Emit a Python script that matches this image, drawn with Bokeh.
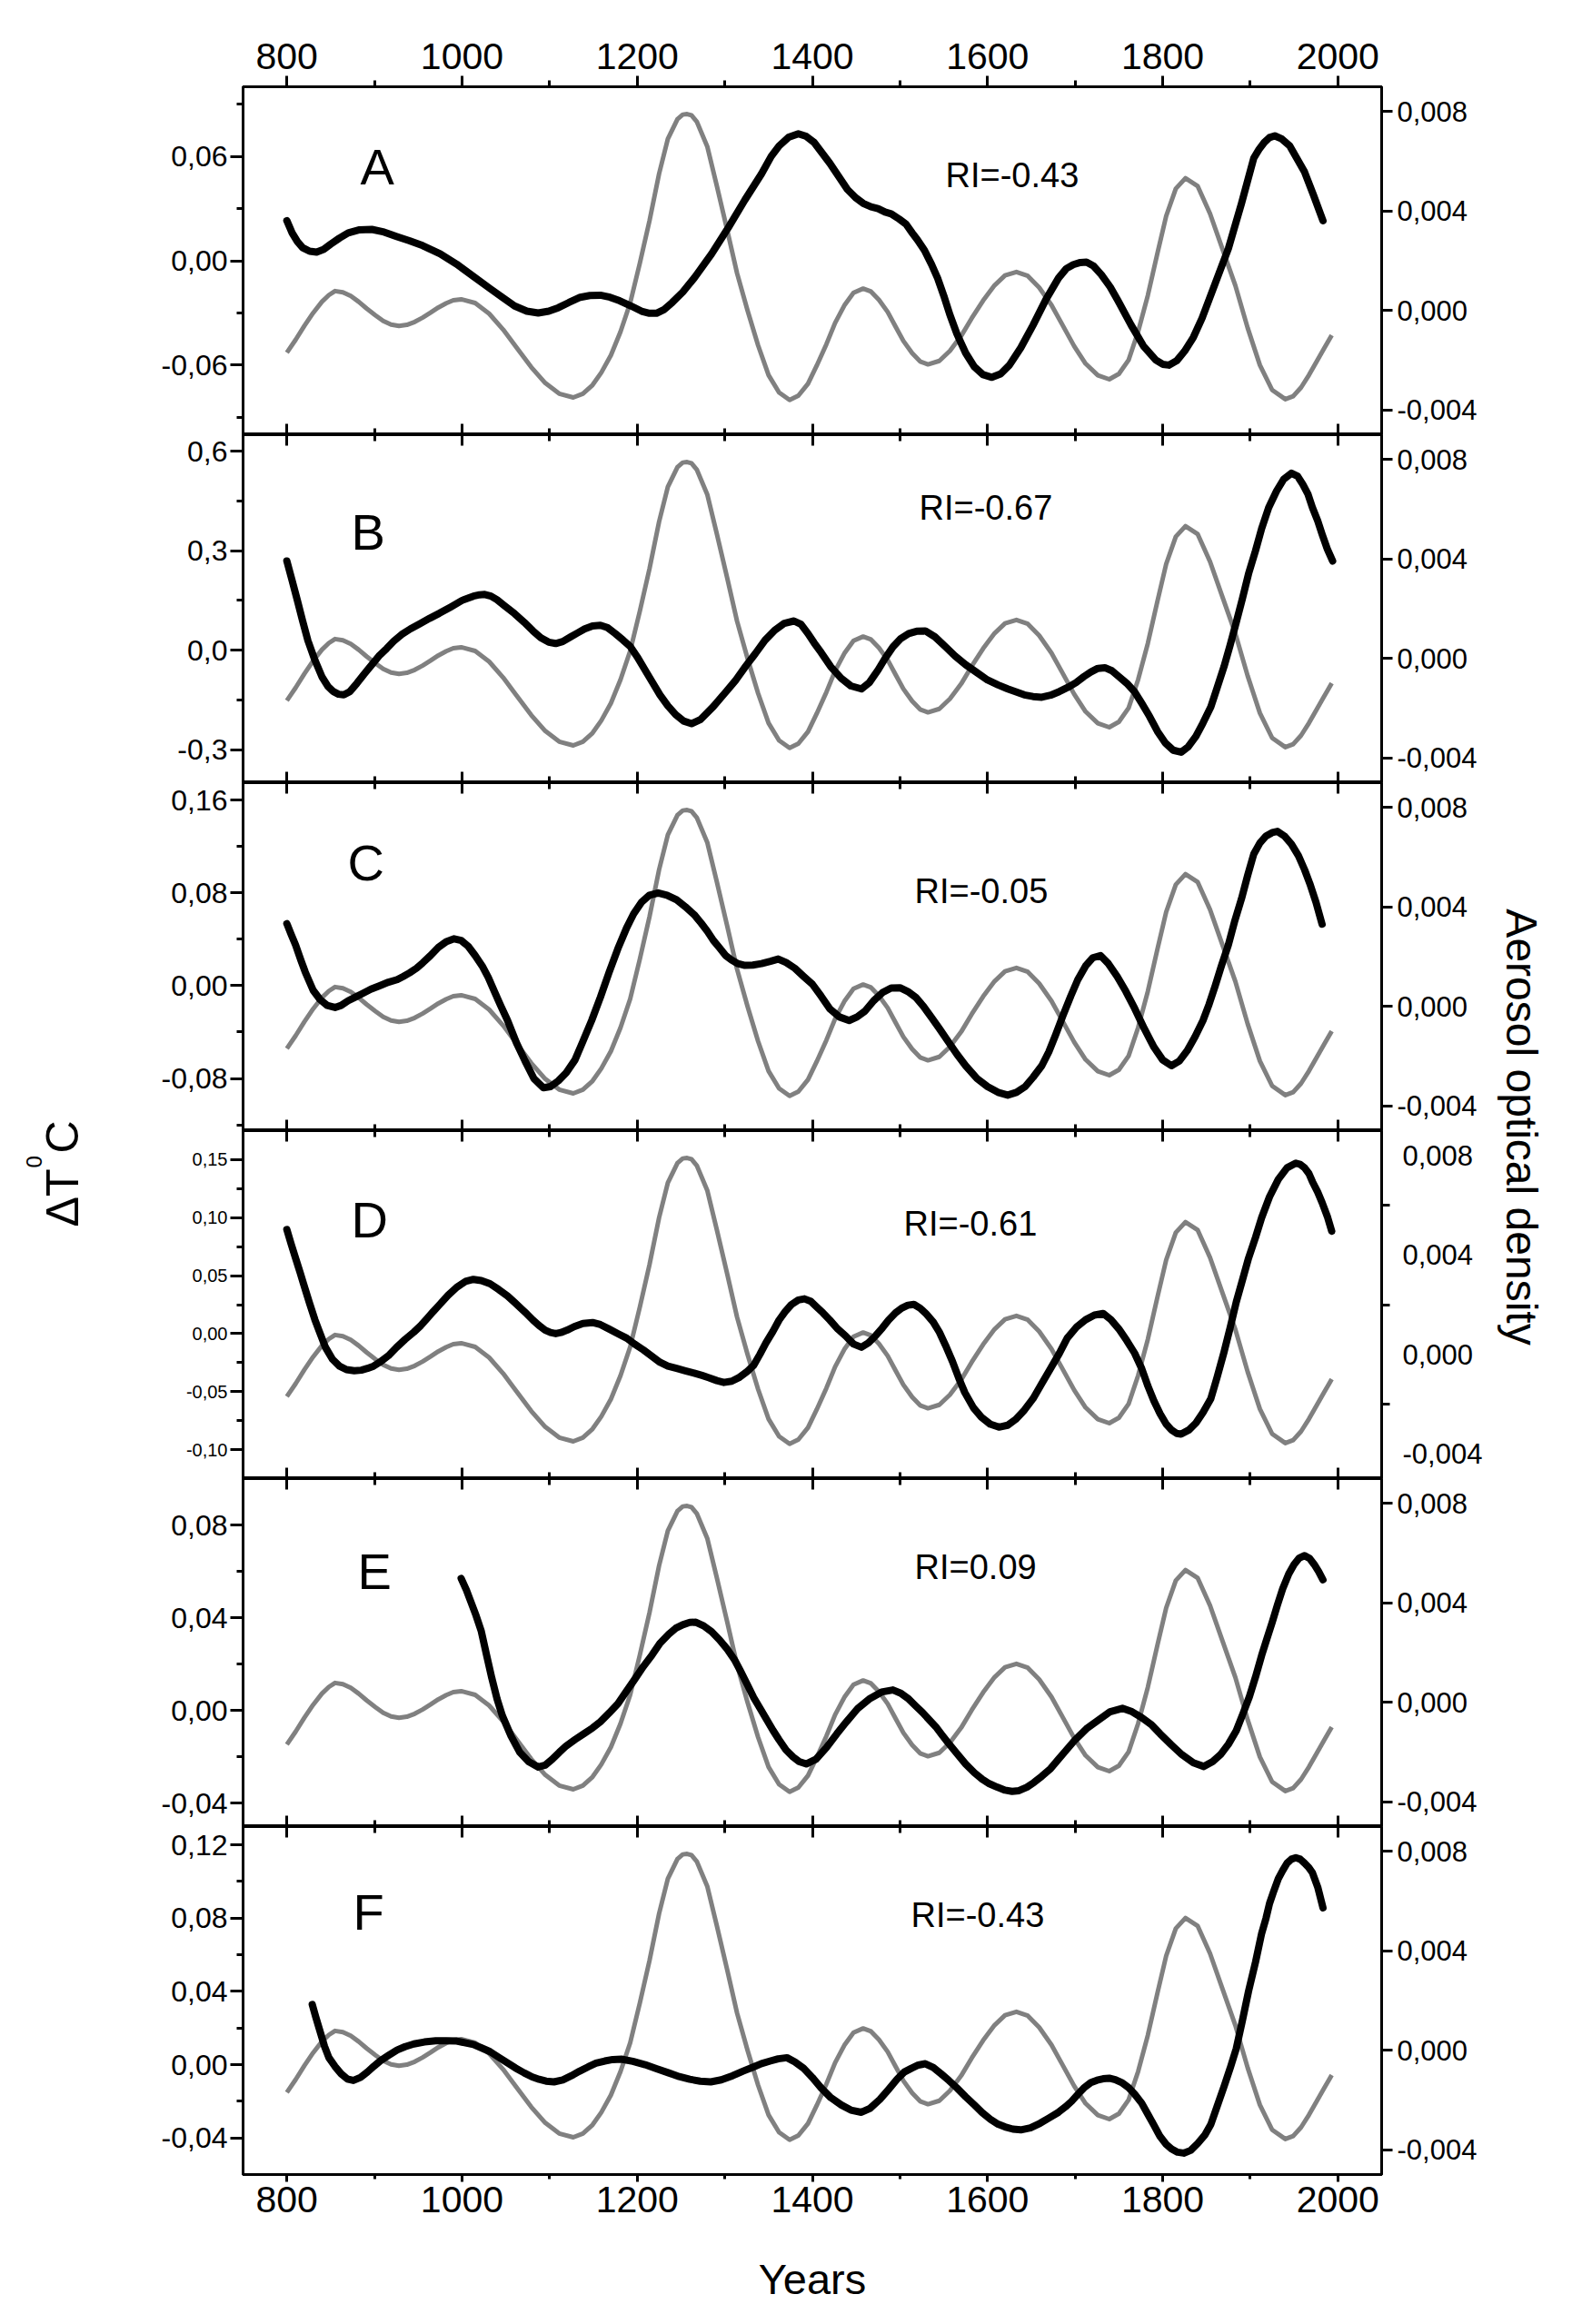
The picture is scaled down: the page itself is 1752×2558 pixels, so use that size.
import math
from bokeh.plotting import figure
from bokeh.models import Range1d, LinearAxis, FixedTicker, Label, Grid
from bokeh.layouts import row, column
from bokeh.embed import file_html
from bokeh.resources import INLINE

# ---------------- data ----------------
panel_names = ["A", "B", "C", "D", "E", "F"]
ri_texts = ["RI=-0.43", "RI=-0.67", "RI=-0.05", "RI=-0.61", "RI=0.09", "RI=-0.43"]

year_ticks = [800, 1000, 1200, 1400, 1600, 1800, 2000]
year_minor_ticks = [900, 1100, 1300, 1500, 1700, 1900]

# aerosol optical density (grey, right axis) - same curve in all panels
grey_years = [800, 810, 820, 830, 840, 848, 855, 864, 873, 882, 891, 901, 910, 919, 928, 937, 946, 955,
              964, 973, 982, 990, 999, 1015, 1031, 1047, 1063, 1079, 1095, 1111, 1127, 1138, 1149, 1159,
              1170, 1181, 1192, 1203, 1214, 1225, 1235, 1246, 1252, 1257, 1262, 1268, 1280, 1291, 1303,
              1314, 1326, 1338, 1350, 1362, 1374, 1384, 1395, 1405, 1416, 1426, 1437, 1447, 1458, 1467,
              1476, 1486, 1495, 1504, 1514, 1523, 1532, 1545, 1557, 1570, 1582, 1595, 1608, 1620, 1633,
              1646, 1659, 1673, 1686, 1699, 1712, 1726, 1739, 1750, 1761, 1772, 1783, 1794, 1804, 1815,
              1826, 1840, 1854, 1868, 1883, 1897, 1911, 1925, 1940, 1949, 1958, 1967, 1975, 1984, 1993]
grey_aod = [-0.00170, -0.00118, -0.00062, -0.00010, 0.00035, 0.00062, 0.00078, 0.00073, 0.00058,
            0.00035, 0.00008, -0.00019, -0.00042, -0.00057, -0.00062, -0.00058, -0.00046, -0.00029,
            -0.00009, 0.00012, 0.00029, 0.00041, 0.00045, 0.00030, -0.00013, -0.00077, -0.00153,
            -0.00228, -0.00292, -0.00335, -0.00350, -0.00335, -0.00300, -0.00250, -0.00180, -0.00085,
            0.00030, 0.00190, 0.00360, 0.00550, 0.00690, 0.00770, 0.00788, 0.00790, 0.00785, 0.00760,
            0.00660, 0.00500, 0.00320, 0.00150, 0.00000, -0.00140, -0.00260, -0.00330, -0.00360,
            -0.00343, -0.00295, -0.00222, -0.00136, -0.00050, 0.00023, 0.00071, 0.00088, 0.00076,
            0.00043, -0.00006, -0.00065, -0.00123, -0.00172, -0.00205, -0.00217, -0.00203, -0.00163,
            -0.00102, -0.00031, 0.00040, 0.00101, 0.00141, 0.00155, 0.00139, 0.00092, 0.00022,
            -0.00061, -0.00144, -0.00214, -0.00261, -0.00277, -0.00255, -0.00200, -0.00085, 0.00060,
            0.00230, 0.00380, 0.00490, 0.00532, 0.00500, 0.00390, 0.00250, 0.00100, -0.00070,
            -0.00220, -0.00320, -0.00357, -0.00345, -0.00310, -0.00260, -0.00210, -0.00155, -0.00100]

# temperature anomalies (black, left axis)
black_years_A = [800, 806, 812, 818, 826, 834, 842, 850, 860, 870, 883, 897, 911, 925, 940, 955, 975, 994,
                 1013, 1032, 1046, 1060, 1074, 1087, 1099, 1110, 1122, 1135, 1146, 1158, 1169, 1180, 1193,
                 1205, 1214, 1222, 1231, 1240, 1252, 1265, 1285, 1304, 1323, 1342, 1353, 1362, 1373, 1384,
                 1393, 1402, 1411, 1420, 1440, 1450, 1458, 1467, 1475, 1483, 1490, 1499, 1507, 1514, 1520,
                 1528, 1536, 1543, 1550, 1557, 1565, 1575, 1585, 1595, 1605, 1615, 1625, 1638, 1652, 1667,
                 1681, 1690, 1698, 1706, 1713, 1721, 1730, 1740, 1749, 1764, 1778, 1792, 1800, 1807, 1816,
                 1825, 1835, 1845, 1860, 1875, 1890, 1904, 1910, 1916, 1922, 1928, 1936, 1945, 1953, 1962,
                 1972, 1983]
black_temp_A = [0.023, 0.016, 0.011, 0.0075, 0.0055, 0.005, 0.0065, 0.0095, 0.013, 0.016, 0.0178, 0.018,
                0.0165, 0.014, 0.0115, 0.0087, 0.004, -0.002, -0.009, -0.016, -0.021, -0.026, -0.029,
                -0.030, -0.029, -0.027, -0.024, -0.021, -0.020, -0.0198, -0.021, -0.023, -0.026, -0.029,
                -0.0302, -0.0302, -0.028, -0.024, -0.018, -0.010, 0.004, 0.019, 0.035, 0.050, 0.060,
                0.066, 0.071, 0.073, 0.0715, 0.068, 0.062, 0.056, 0.041, 0.036, 0.033, 0.031, 0.030,
                0.028, 0.027, 0.024, 0.021, 0.016, 0.012, 0.006, -0.002, -0.010, -0.020, -0.031, -0.042,
                -0.053, -0.061, -0.0655, -0.067, -0.065, -0.060, -0.050, -0.037, -0.022, -0.010, -0.0045,
                -0.0022, -0.001, -0.0008, -0.003, -0.008, -0.015, -0.023, -0.037, -0.049, -0.057, -0.0595,
                -0.060, -0.0575, -0.052, -0.044, -0.033, -0.013, 0.007, 0.033, 0.059, 0.064, 0.068,
                0.0708, 0.0718, 0.070, 0.066, 0.059, 0.051, 0.038, 0.023]

black_years_B = [800, 806, 812, 818, 824, 832, 840, 847, 853, 859, 865, 872, 880, 888, 897, 905, 914, 922,
                 931, 941, 952, 963, 974, 987, 1000, 1013, 1020, 1026, 1033, 1040, 1048, 1060, 1071, 1081,
                 1090, 1099, 1107, 1115, 1124, 1132, 1140, 1149, 1158, 1166, 1175, 1184, 1192, 1200, 1209,
                 1218, 1226, 1235, 1244, 1253, 1262, 1272, 1287, 1300, 1313, 1324, 1335, 1346, 1357, 1368,
                 1379, 1387, 1395, 1402, 1410, 1421, 1433, 1444, 1456, 1465, 1475, 1483, 1492, 1501, 1510,
                 1519, 1529, 1540, 1552, 1563, 1575, 1588, 1600, 1612, 1623, 1642, 1652, 1662, 1672, 1682,
                 1692, 1701, 1710, 1718, 1726, 1734, 1742, 1750, 1759, 1768, 1776, 1785, 1794, 1803, 1812,
                 1821, 1829, 1838, 1846, 1855, 1862, 1870, 1877, 1884, 1891, 1898, 1906, 1913, 1921, 1930,
                 1938, 1947, 1954, 1960, 1966, 1971, 1977, 1982, 1988, 1994]
black_temp_B = [0.269, 0.210, 0.150, 0.088, 0.029, -0.030, -0.080, -0.110, -0.125, -0.133, -0.135,
                -0.125, -0.100, -0.073, -0.044, -0.018, 0.005, 0.027, 0.047, 0.064, 0.080, 0.096, 0.111,
                0.130, 0.150, 0.163, 0.167, 0.168, 0.163, 0.152, 0.135, 0.110, 0.084, 0.058, 0.037,
                0.024, 0.020, 0.026, 0.040, 0.052, 0.064, 0.073, 0.075, 0.068, 0.050, 0.030, 0.011,
                -0.020, -0.060, -0.100, -0.135, -0.168, -0.195, -0.214, -0.222, -0.210, -0.170, -0.130,
                -0.089, -0.048, -0.010, 0.030, 0.060, 0.081, 0.088, 0.078, 0.050, 0.022, -0.007, -0.050,
                -0.085, -0.108, -0.117, -0.098, -0.060, -0.025, 0.010, 0.035, 0.050, 0.057, 0.058,
                0.040, 0.010, -0.018, -0.044, -0.068, -0.090, -0.105, -0.117, -0.135, -0.140, -0.142,
                -0.136, -0.125, -0.112, -0.098, -0.080, -0.066, -0.055, -0.053, -0.062, -0.080, -0.100,
                -0.126, -0.160, -0.200, -0.245, -0.280, -0.302, -0.308, -0.292, -0.260, -0.220, -0.171,
                -0.115, -0.050, 0.015, 0.084, 0.155, 0.230, 0.300, 0.367, 0.430, 0.480, 0.515, 0.534,
                0.525, 0.500, 0.470, 0.430, 0.390, 0.350, 0.305, 0.269]

black_years_C = [800, 805, 810, 816, 821, 830, 838, 846, 855, 862, 870, 878, 887, 896, 906, 916, 926, 933,
                 940, 948, 955, 964, 973, 982, 991, 999, 1007, 1015, 1023, 1030, 1037, 1044, 1052, 1062,
                 1072, 1082, 1093, 1101, 1110, 1119, 1129, 1138, 1148, 1158, 1168, 1178, 1188, 1196, 1205,
                 1214, 1224, 1234, 1245, 1255, 1265, 1273, 1280, 1287, 1294, 1301, 1308, 1315, 1323, 1332,
                 1342, 1352, 1361, 1370, 1380, 1390, 1400, 1410, 1420, 1431, 1442, 1451, 1460, 1470, 1480,
                 1490, 1500, 1509, 1518, 1527, 1536, 1545, 1555, 1565, 1575, 1588, 1600, 1612, 1623, 1633,
                 1643, 1652, 1662, 1670, 1678, 1686, 1695, 1703, 1712, 1720, 1729, 1738, 1748, 1758, 1768,
                 1779, 1790, 1800, 1810, 1819, 1828, 1837, 1846, 1853, 1860, 1867, 1875, 1882, 1890, 1897,
                 1904, 1911, 1918, 1925, 1931, 1939, 1947, 1955, 1962, 1968, 1975, 1982]
black_temp_C = [0.0535, 0.044, 0.035, 0.022, 0.0117, -0.004, -0.012, -0.017, -0.0188, -0.017, -0.013,
                -0.010, -0.0065, -0.003, 0.0, 0.003, 0.0052, 0.008, 0.011, 0.015, 0.0196, 0.026, 0.033,
                0.038, 0.0404, 0.039, 0.034, 0.026, 0.017, 0.007, -0.005, -0.017, -0.030, -0.049, -0.065,
                -0.080, -0.088, -0.087, -0.082, -0.075, -0.064, -0.048, -0.030, -0.010, 0.0117, 0.032,
                0.050, 0.062, 0.072, 0.078, 0.080, 0.078, 0.074, 0.068, 0.0613, 0.054, 0.047, 0.039,
                0.0326, 0.026, 0.022, 0.019, 0.0175, 0.0178, 0.019, 0.021, 0.023, 0.020, 0.015, 0.008,
                0.0013, -0.009, -0.020, -0.027, -0.030, -0.027, -0.022, -0.013, -0.006, -0.002, -0.0018,
                -0.005, -0.010, -0.018, -0.0274, -0.037, -0.048, -0.059, -0.069, -0.080, -0.087, -0.092,
                -0.0944, -0.092, -0.087, -0.079, -0.069, -0.057, -0.042, -0.026, -0.0091, 0.005, 0.017,
                0.024, 0.026, 0.019, 0.008, -0.005, -0.0196, -0.037, -0.053, -0.064, -0.069, -0.065,
                -0.056, -0.044, -0.030, -0.016, 0.000, 0.017, 0.0352, 0.055, 0.075, 0.095, 0.1135, 0.123,
                0.129, 0.132, 0.133, 0.129, 0.122, 0.112, 0.100, 0.088, 0.072, 0.053]

black_years_D = [800, 805, 810, 815, 819, 826, 832, 838, 844, 852, 860, 868, 877, 885, 892, 899, 906, 916,
                 925, 935, 945, 953, 960, 967, 974, 984, 994, 1004, 1013, 1022, 1032, 1042, 1052, 1060,
                 1067, 1074, 1081, 1088, 1095, 1101, 1107, 1113, 1120, 1128, 1138, 1149, 1158, 1168, 1178,
                 1188, 1197, 1207, 1216, 1226, 1235, 1245, 1255, 1265, 1274, 1282, 1291, 1299, 1308, 1316,
                 1325, 1333, 1340, 1347, 1355, 1362, 1369, 1376, 1384, 1391, 1398, 1405, 1412, 1420, 1429,
                 1438, 1447, 1456, 1464, 1472, 1480, 1487, 1495, 1502, 1509, 1516, 1523, 1530, 1538, 1545,
                 1552, 1560, 1567, 1574, 1584, 1593, 1603, 1613, 1623, 1632, 1642, 1652, 1662, 1672, 1682,
                 1691, 1702, 1712, 1722, 1732, 1741, 1750, 1759, 1768, 1776, 1783, 1790, 1797, 1804, 1810,
                 1816, 1821, 1830, 1838, 1846, 1855, 1862, 1870, 1877, 1884, 1891, 1898, 1906, 1913, 1922,
                 1932, 1942, 1952, 1957, 1962, 1967, 1971, 1977, 1982, 1988, 1993]
black_temp_D = [0.0897, 0.077, 0.065, 0.053, 0.043, 0.026, 0.012, 0.000, -0.0117, -0.022, -0.028, -0.031,
                -0.032, -0.0315, -0.030, -0.028, -0.0247, -0.019, -0.012, -0.005, 0.0013, 0.007, 0.013,
                0.019, 0.0247, 0.033, 0.040, 0.045, 0.0468, 0.0458, 0.043, 0.038, 0.0325, 0.027, 0.022,
                0.017, 0.0117, 0.007, 0.003, 0.001, 0.000, 0.001, 0.003, 0.006, 0.0088, 0.0096, 0.0078,
                0.004, 0.000, -0.0039, -0.009, -0.014, -0.019, -0.0247, -0.028, -0.030, -0.032, -0.034,
                -0.036, -0.038, -0.0405, -0.0421, -0.041, -0.038, -0.033, -0.0273, -0.018, -0.008, 0.002,
                0.0117, 0.019, 0.025, 0.029, 0.030, 0.028, 0.023, 0.018, 0.0117, 0.004, -0.002, -0.009,
                -0.0117, -0.008, -0.002, 0.005, 0.0117, 0.018, 0.022, 0.0245, 0.0252, 0.022, 0.017,
                0.010, 0.0013, -0.010, -0.024, -0.038, -0.0507, -0.064, -0.072, -0.078, -0.0806, -0.079,
                -0.074, -0.066, -0.056, -0.043, -0.030, -0.017, -0.0039, 0.006, 0.012, 0.016, 0.0174,
                0.012, 0.004, -0.006, -0.0169, -0.030, -0.045, -0.058, -0.069, -0.078, -0.083, -0.086,
                -0.0866, -0.083, -0.077, -0.068, -0.056, -0.038, -0.016, 0.005, 0.0273, 0.046, 0.065,
                0.083, 0.100, 0.118, 0.133, 0.143, 0.147, 0.146, 0.143, 0.138, 0.131, 0.122, 0.113,
                0.101, 0.0884]

black_years_E = [999, 1005, 1010, 1016, 1022, 1028, 1034, 1040, 1046, 1056, 1066, 1076, 1087, 1095, 1103,
                 1111, 1119, 1129, 1139, 1149, 1158, 1168, 1178, 1187, 1197, 1207, 1217, 1226, 1236, 1244,
                 1252, 1260, 1267, 1276, 1285, 1294, 1303, 1311, 1318, 1326, 1333, 1341, 1348, 1355, 1362,
                 1370, 1378, 1385, 1393, 1404, 1416, 1428, 1439, 1452, 1465, 1479, 1492, 1501, 1510, 1518,
                 1526, 1533, 1541, 1548, 1555, 1565, 1575, 1585, 1594, 1602, 1611, 1620, 1628, 1636, 1645,
                 1653, 1662, 1672, 1681, 1690, 1700, 1714, 1727, 1740, 1754, 1765, 1776, 1787, 1797, 1810,
                 1822, 1835, 1847, 1857, 1866, 1875, 1884, 1892, 1899, 1906, 1913, 1919, 1925, 1931, 1937,
                 1944, 1950, 1956, 1962, 1968, 1973, 1978, 1983]
black_temp_E = [0.057, 0.052, 0.047, 0.041, 0.0342, 0.024, 0.014, 0.005, -0.0022, -0.011, -0.018, -0.022,
                -0.0243, -0.0235, -0.021, -0.018, -0.0152, -0.0125, -0.010, -0.0075, -0.0048, -0.001,
                0.003, 0.008, 0.0134, 0.019, 0.024, 0.029, 0.0329, 0.0355, 0.037, 0.038, 0.0381, 0.0365,
                0.034, 0.0305, 0.0264, 0.022, 0.017, 0.011, 0.0056, 0.0005, -0.004, -0.0085, -0.0126,
                -0.017, -0.020, -0.022, -0.023, -0.021, -0.016, -0.010, -0.0048, 0.001, 0.005, 0.008,
                0.0089, 0.0075, 0.005, 0.002, -0.0009, -0.0038, -0.007, -0.0105, -0.0139, -0.0185,
                -0.023, -0.0268, -0.0296, -0.0315, -0.033, -0.0343, -0.0348, -0.0345, -0.033, -0.031,
                -0.0283, -0.025, -0.021, -0.017, -0.0126, -0.0075, -0.004, -0.0005, 0.001, -0.0005,
                -0.003, -0.006, -0.010, -0.0148, -0.019, -0.0225, -0.0241, -0.022, -0.019, -0.0145,
                -0.0087, -0.001, 0.006, 0.0145, 0.0238, 0.031, 0.038, 0.0455, 0.0525, 0.059, 0.063,
                0.0658, 0.0668, 0.0655, 0.063, 0.060, 0.0564]

black_years_F = [829, 833, 838, 843, 848, 855, 862, 869, 876, 884, 892, 899, 907, 916, 926, 935, 945, 957,
                 970, 982, 994, 1003, 1013, 1022, 1032, 1042, 1052, 1061, 1071, 1080, 1088, 1096, 1105,
                 1115, 1125, 1134, 1144, 1153, 1163, 1172, 1182, 1195, 1209, 1222, 1236, 1248, 1260, 1272,
                 1284, 1296, 1309, 1321, 1333, 1342, 1352, 1361, 1371, 1380, 1390, 1400, 1410, 1421, 1433,
                 1444, 1456, 1466, 1477, 1487, 1497, 1505, 1513, 1521, 1529, 1538, 1547, 1556, 1565, 1575,
                 1585, 1594, 1604, 1612, 1620, 1629, 1638, 1649, 1660, 1670, 1681, 1689, 1696, 1703, 1710,
                 1718, 1725, 1732, 1739, 1746, 1754, 1761, 1768, 1776, 1783, 1790, 1797, 1804, 1810, 1817,
                 1824, 1832, 1840, 1848, 1855, 1862, 1870, 1877, 1884, 1891, 1898, 1906, 1913, 1918, 1922,
                 1927, 1932, 1937, 1942, 1947, 1952, 1957, 1962, 1967, 1971, 1977, 1983]
black_temp_F = [0.0328, 0.026, 0.018, 0.010, 0.0038, -0.001, -0.005, -0.0078, -0.0086, -0.007, -0.004,
                -0.001, 0.0022, 0.005, 0.008, 0.0098, 0.0113, 0.0124, 0.013, 0.0131, 0.0129, 0.012,
                0.011, 0.0092, 0.0071, 0.004, 0.001, -0.0018, -0.0045, -0.0067, -0.008, -0.009, -0.0094,
                -0.0083, -0.006, -0.0036, -0.0012, 0.0008, 0.002, 0.0028, 0.003, 0.0018, 0.000, -0.0022,
                -0.0045, -0.0065, -0.008, -0.009, -0.0094, -0.0083, -0.006, -0.0035, -0.0012, 0.0006,
                0.002, 0.0032, 0.0038, 0.0015, -0.002, -0.007, -0.0127, -0.018, -0.022, -0.0248, -0.026,
                -0.0238, -0.019, -0.0135, -0.0078, -0.004, -0.002, -0.0002, 0.0005, -0.0015, -0.005,
                -0.0087, -0.0127, -0.0175, -0.022, -0.0262, -0.0301, -0.0325, -0.034, -0.0352, -0.0356,
                -0.0345, -0.032, -0.0292, -0.026, -0.023, -0.020, -0.0163, -0.0127, -0.0098, -0.0085,
                -0.0077, -0.0074, -0.0082, -0.010, -0.0125, -0.0161, -0.021, -0.027, -0.033, -0.0392,
                -0.0435, -0.046, -0.0478, -0.0483, -0.0468, -0.043, -0.0385, -0.0326, -0.023, -0.012,
                -0.002, 0.0088, 0.024, 0.040, 0.056, 0.0717, 0.080, 0.088, 0.095, 0.1015, 0.106, 0.110,
                0.1122, 0.113, 0.1122, 0.110, 0.1075, 0.1048, 0.097, 0.0857]

black_years = [black_years_A, black_years_B, black_years_C, black_years_D, black_years_E, black_years_F]
black_temps = [black_temp_A, black_temp_B, black_temp_C, black_temp_D, black_temp_E, black_temp_F]

# left (temperature) axes per panel
left_ranges = [(-0.1, 0.1), (-0.4, 0.65), (-0.125, 0.175), (-0.125, 0.175), (-0.05, 0.10), (-0.06, 0.13)]
left_ticks = [
    [-0.06, 0.0, 0.06],
    [-0.3, 0.0, 0.3, 0.6],
    [-0.08, 0.0, 0.08, 0.16],
    [-0.10, -0.05, 0.0, 0.05, 0.10, 0.15],
    [-0.04, 0.0, 0.04, 0.08],
    [-0.04, 0.0, 0.04, 0.08, 0.12],
]
left_tick_labels = [
    ["-0,06", "0,00", "0,06"],
    ["-0,3", "0,0", "0,3", "0,6"],
    ["-0,08", "0,00", "0,08", "0,16"],
    ["-0,10", "-0,05", "0,00", "0,05", "0,10", "0,15"],
    ["-0,04", "0,00", "0,04", "0,08"],
    ["-0,04", "0,00", "0,04", "0,08", "0,12"],
]
left_minor_ticks = [
    [-0.09, -0.03, 0.03, 0.09],
    [-0.15, 0.15, 0.45],
    [-0.12, -0.04, 0.04, 0.12],
    [-0.075, -0.025, 0.025, 0.075, 0.125],
    [-0.02, 0.02, 0.06],
    [-0.02, 0.02, 0.06, 0.10],
]

# right (aerosol) axes, same for every panel
aod_range = (-0.005, 0.009)
aod_ticks = [-0.004, 0.0, 0.004, 0.008]
aod_tick_labels = ["-0,004", "0,000", "0,004", "0,008"]
aod_minor_ticks_D = [-0.002, 0.002, 0.006]

# ---------------- geometry / style ----------------
FONT = "Liberation Sans"
X0, X1 = 750, 2050
NP = 6
FRAME_W = 1253
PANEL_H = 383
PAGE_FRAME_LEFT = 275
PAGE_FRAME_TOP = 103
LEFT_FIG_W = 142
RIGHT_FIG_W = 88
BORDER_L = PAGE_FRAME_LEFT - 8 - LEFT_FIG_W          # 125
BORDER_R = 120
TOP_B = 95
BOT_B = 147
TOTAL_H = TOP_B + PANEL_H * NP + BOT_B               # 2540
RIGHT_FIG_PAGE_X = 8 + LEFT_FIG_W + BORDER_L + FRAME_W + BORDER_R


def px_x(page_x):
    return X0 + (page_x - PAGE_FRAME_LEFT) / FRAME_W * (X1 - X0)


def px_y(page_y, i):
    lo, hi = left_ranges[i]
    top = PAGE_FRAME_TOP + PANEL_H * i
    return hi - (page_y - top) / PANEL_H * (hi - lo)


def x_ticker():
    return FixedTicker(ticks=year_ticks, minor_ticks=year_minor_ticks)


def no_grids(fig):
    for r in list(fig.center):
        if isinstance(r, Grid):
            r.visible = False
            r.grid_line_color = None


common_axis = dict(axis_line_width=3, major_tick_line_width=3, minor_tick_line_width=3,
                   axis_line_color="black", major_tick_line_color="black", minor_tick_line_color="black",
                   major_label_text_color="black", major_label_text_font=FONT)

letter_pos = [(404, 191), (394, 593), (390, 957), (394, 1350), (401, 1737), (396, 2112)]
ri_pos = [(1048, 200), (1019, 566), (1014, 988), (1002, 1354), (1014, 1732), (1010, 2115)]

panels = []
for i in range(NP):
    lo, hi = left_ranges[i]
    f = figure(frame_width=FRAME_W, frame_height=PANEL_H,
               min_border_left=BORDER_L, min_border_right=BORDER_R,
               min_border_top=TOP_B if i == 0 else 0, min_border_bottom=BOT_B if i == NP - 1 else 0,
               x_range=Range1d(X0, X1), y_range=Range1d(lo, hi),
               x_axis_location=None, y_axis_location=None,
               toolbar_location=None, output_backend="svg")
    no_grids(f)
    f.extra_y_ranges = {"aod": Range1d(aod_range[0], aod_range[1])}
    f.outline_line_color = "black"
    f.outline_line_width = 3
    f.background_fill_color = "white"
    f.border_fill_color = "white"

    # top edge
    if i == 0:
        ax = LinearAxis(ticker=x_ticker(), major_tick_out=12, major_tick_in=0, minor_tick_out=7,
                        minor_tick_in=0, major_label_text_font_size="41px", major_label_standoff=8,
                        **common_axis)
    else:
        ax = LinearAxis(ticker=x_ticker(), fixed_location=hi, major_tick_out=0, major_tick_in=12,
                        minor_tick_out=0, minor_tick_in=7, major_label_text_font_size="1px",
                        **{**common_axis, "major_label_text_color": None})
    f.add_layout(ax, "above")

    # bottom edge
    if i == NP - 1:
        ax = LinearAxis(ticker=x_ticker(), major_tick_out=8, major_tick_in=0, minor_tick_out=5,
                        minor_tick_in=0, major_label_text_font_size="41px", major_label_standoff=5,
                        axis_label="Years", axis_label_text_font=FONT, axis_label_text_font_size="47px",
                        axis_label_text_font_style="normal", axis_label_text_color="black",
                        axis_label_standoff=44, **common_axis)
    else:
        ax = LinearAxis(ticker=x_ticker(), fixed_location=lo, major_tick_out=0, major_tick_in=12,
                        minor_tick_out=0, minor_tick_in=7, major_label_text_font_size="1px",
                        **{**common_axis, "major_label_text_color": None})
    f.add_layout(ax, "below")

    # left axis (temperature)
    fs = "20px" if panel_names[i] == "D" else "32px"
    lax = LinearAxis(ticker=FixedTicker(ticks=left_ticks[i], minor_ticks=left_minor_ticks[i]),
                     major_label_overrides=dict(zip(left_ticks[i], left_tick_labels[i])),
                     major_tick_out=14, major_tick_in=0, minor_tick_out=7, minor_tick_in=0,
                     major_label_text_font_size=fs, major_label_standoff=3, **common_axis)
    f.add_layout(lax, "left")

    # right axis (aerosol)
    is_d = panel_names[i] == "D"
    rax = LinearAxis(y_range_name="aod",
                     ticker=FixedTicker(ticks=aod_ticks, minor_ticks=aod_minor_ticks_D if is_d else []),
                     major_label_overrides=dict(zip(aod_ticks, aod_tick_labels)),
                     major_tick_out=0 if is_d else 12, major_tick_in=0, minor_tick_out=9, minor_tick_in=0,
                     major_label_text_font_size="31px", major_label_standoff=14 if is_d else 5,
                     **common_axis)
    f.add_layout(rax, "right")

    f.line(grey_years, grey_aod, y_range_name="aod", line_color="#808080", line_width=5,
           line_join="round")
    f.line(black_years[i], black_temps[i], line_color="black", line_width=8,
           line_join="round", line_cap="round")

    lx, ly = letter_pos[i]
    f.add_layout(Label(x=px_x(lx), y=px_y(ly, i), text=panel_names[i], text_font=FONT,
                       text_font_size="56px", text_color="black",
                       text_align="left", text_baseline="alphabetic"))
    rx, ry = ri_pos[i]
    f.add_layout(Label(x=px_x(rx), y=px_y(ry, i), text=ri_texts[i], text_font=FONT,
                       text_font_size="38px", text_color="black",
                       text_align="left", text_baseline="alphabetic"))
    panels.append(f)


def side_fig(w):
    s = figure(width=w, height=TOTAL_H, x_range=Range1d(0, w), y_range=Range1d(0, TOTAL_H),
               min_border=0, x_axis_location=None, y_axis_location=None,
               toolbar_location=None, output_backend="svg")
    no_grids(s)
    s.outline_line_color = None
    s.background_fill_color = "white"
    s.border_fill_color = "white"
    return s


# left title: ΔT⁰C (page coordinates converted to the side figure's own coordinates)
lt = side_fig(LEFT_FIG_W)


def lt_xy(px, py):
    return px - 8, TOTAL_H - (py - 8)


for txt, (px, py), size in [("ΔT", (76, 1358), "50px"), ("0", (45, 1293), "24px"), ("C", (76, 1277), "50px")]:
    x, y = lt_xy(px, py)
    lt.add_layout(Label(x=x, y=y, text=txt, angle=math.pi / 2, text_font=FONT, text_font_size=size,
                        text_color="black", text_align="left", text_baseline="alphabetic"))

# right title
rt = side_fig(RIGHT_FIG_W)
rx, ry = 1682 - RIGHT_FIG_PAGE_X, TOTAL_H - (1248 - 8)
rt.add_layout(Label(x=rx, y=ry, text="Aerosol optical density", angle=-math.pi / 2, text_font=FONT,
                    text_font_size="48px", text_color="black", text_align="center",
                    text_baseline="alphabetic"))

layout = row(lt, column(*panels, spacing=0), rt, spacing=0)
open("out.html", "w").write(file_html(layout, INLINE))
